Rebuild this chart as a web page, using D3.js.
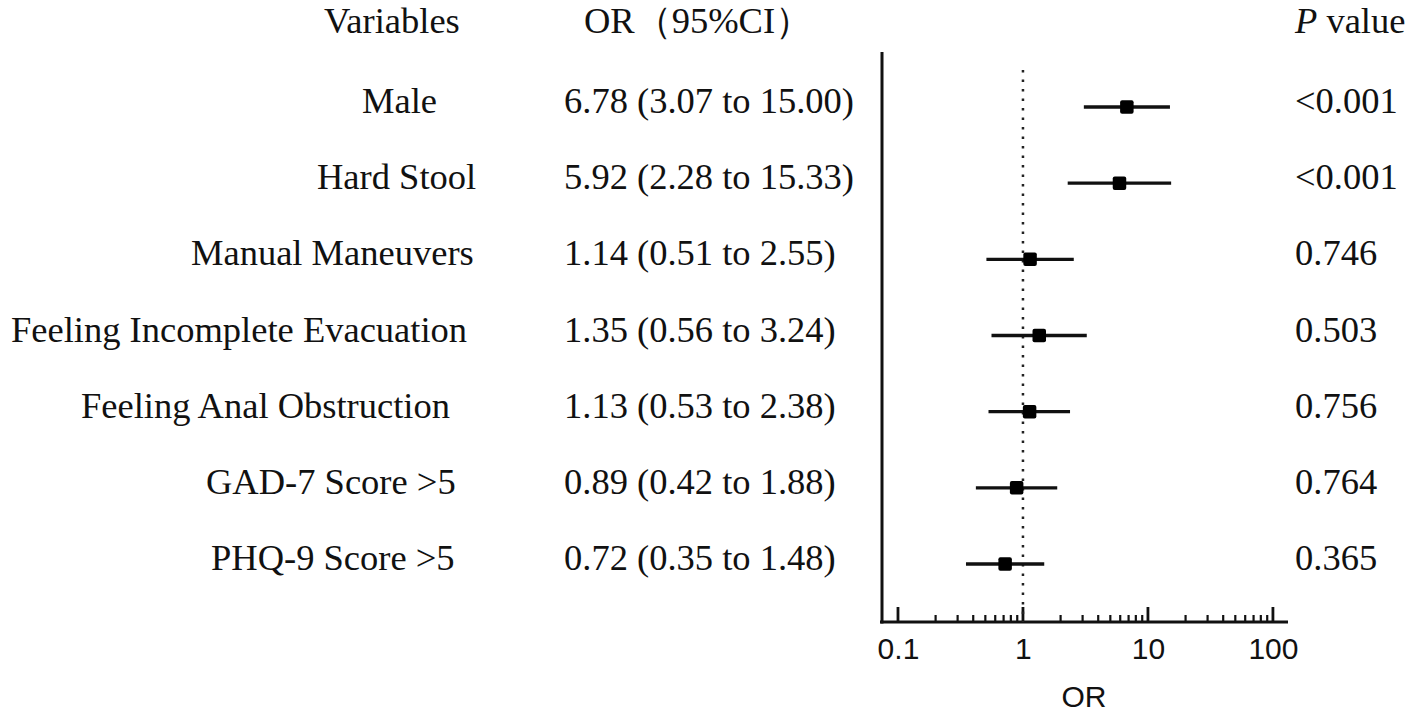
<!DOCTYPE html>
<html><head><meta charset="utf-8">
<script src="https://cdn.jsdelivr.net/npm/d3@7"></script>
<style>
html,body{margin:0;padding:0;background:#fff;}
svg{display:block;}
.serif{font-family:"Liberation Serif","Times New Roman",serif;font-size:36.5px;fill:#111;}
.sans{font-family:"Liberation Sans",Arial,sans-serif;fill:#111;}
</style></head>
<body>
<svg id="c" width="1416" height="716"></svg>
<script>
// ---- data ----
const variables = ["Male","Hard Stool","Manual Maneuvers","Feeling Incomplete Evacuation","Feeling Anal Obstruction","GAD-7 Score >5","PHQ-9 Score >5"];
const orValues = [6.78, 5.92, 1.14, 1.35, 1.13, 0.89, 0.72];
const ciLow   = [3.07, 2.28, 0.51, 0.56, 0.53, 0.42, 0.35];
const ciHigh  = [15.00, 15.33, 2.55, 3.24, 2.38, 1.88, 1.48];
const pValues = ["<0.001","<0.001","0.746","0.503","0.756","0.764","0.365"];
const majorTicks = [0.1, 1, 10, 100];
const tickLabels = ["0.1","1","10","100"];
const headers = {variables:"Variables", or:"OR\uFF0895%CI\uFF09", p:"value"};

// ---- layout (not data) ----
const labelLeft = [362, 317, 191, 11, 81, 206, 211];

const svg = d3.select("#c");
const x = d3.scaleLog().domain([0.0718, 132]).range([880, 1288]);
const y = d3.scalePoint().domain(variables).range([107, 564]);
const axisY = 622;

// axis
const minor = [];
for (let e = -1; e < 2; e++) for (let m = 2; m <= 9; m++) minor.push(m * Math.pow(10, e));

const gAxis = svg.append("g").attr("transform", `translate(0,${axisY})`);
gAxis.call(d3.axisBottom(x).tickValues(majorTicks).tickFormat((d,i)=>tickLabels[i]).tickSize(0).tickPadding(16).tickSizeOuter(0))
  .call(g => g.select(".domain").remove())
  .call(g => g.selectAll("text").attr("class","sans").style("font-size","30px").attr("fill","#111").attr("dy","0.71em"));
gAxis.selectAll("line.major").data(majorTicks).enter().append("line")
  .attr("x1", d=>x(d)).attr("x2", d=>x(d)).attr("y1",0).attr("y2",-15)
  .attr("stroke","#111").attr("stroke-width",2.8);
gAxis.selectAll("line.minor").data(minor).enter().append("line")
  .attr("x1", d=>x(d)).attr("x2", d=>x(d)).attr("y1",0).attr("y2",-7)
  .attr("stroke","#111").attr("stroke-width",2.2);
gAxis.append("line").attr("x1",x.range()[0]).attr("x2",x.range()[1]).attr("y1",0).attr("y2",0)
  .attr("stroke","#111").attr("stroke-width",3);
// y axis line
svg.append("line").attr("x1",882).attr("x2",882).attr("y1",52).attr("y2",axisY+1.5)
  .attr("stroke","#111").attr("stroke-width",3);
// reference line at 1
svg.append("line").attr("x1",x(1)).attr("x2",x(1)).attr("y1",70).attr("y2",axisY)
  .attr("stroke","#222").attr("stroke-width",2.5).attr("stroke-dasharray","2.5,7");

// axis title
svg.append("text").attr("class","sans").attr("x",(x.range()[0]+x.range()[1])/2).attr("y",707)
  .attr("text-anchor","middle").style("font-size","30px").text("OR");

// CI lines and markers
const rows = variables.map((v,i)=>({v, or:orValues[i], lo:ciLow[i], hi:ciHigh[i], p:pValues[i], i}));
svg.selectAll("line.ci").data(rows).enter().append("line")
  .attr("x1", d=>x(d.lo)).attr("x2", d=>x(d.hi)).attr("y1", d=>y(d.v)).attr("y2", d=>y(d.v))
  .attr("stroke","#111").attr("stroke-width",3.4);
const ms = 13.5;
svg.selectAll("rect.pt").data(rows).enter().append("rect")
  .attr("x", d=>x(d.or)-ms/2).attr("y", d=>y(d.v)-ms/2).attr("width",ms).attr("height",ms)
  .attr("rx",2).attr("fill","#000");

// text columns
svg.selectAll("text.var").data(rows).enter().append("text").attr("class","serif")
  .attr("x", d=>labelLeft[d.i]).attr("y", d=>y(d.v)+6).text(d=>d.v);
svg.selectAll("text.orv").data(rows).enter().append("text").attr("class","serif")
  .attr("x", 564).attr("y", d=>y(d.v)+6)
  .text(d=>`${d.or.toFixed(2)} (${d.lo.toFixed(2)} to ${d.hi.toFixed(2)})`);
svg.selectAll("text.pv").data(rows).enter().append("text").attr("class","serif")
  .attr("x", 1295).attr("y", d=>y(d.v)+6).text(d=>d.p);

// headers
svg.append("text").attr("class","serif").attr("x",324).attr("y",33).text(headers.variables);
svg.append("text").attr("class","serif").attr("x",584).attr("y",33).text(headers.or);
const ph = svg.append("text").attr("class","serif").attr("x",1295).attr("y",33);
ph.append("tspan").attr("font-style","italic").text("P");
ph.append("tspan").text(" " + headers.p);
</script>
</body></html>
